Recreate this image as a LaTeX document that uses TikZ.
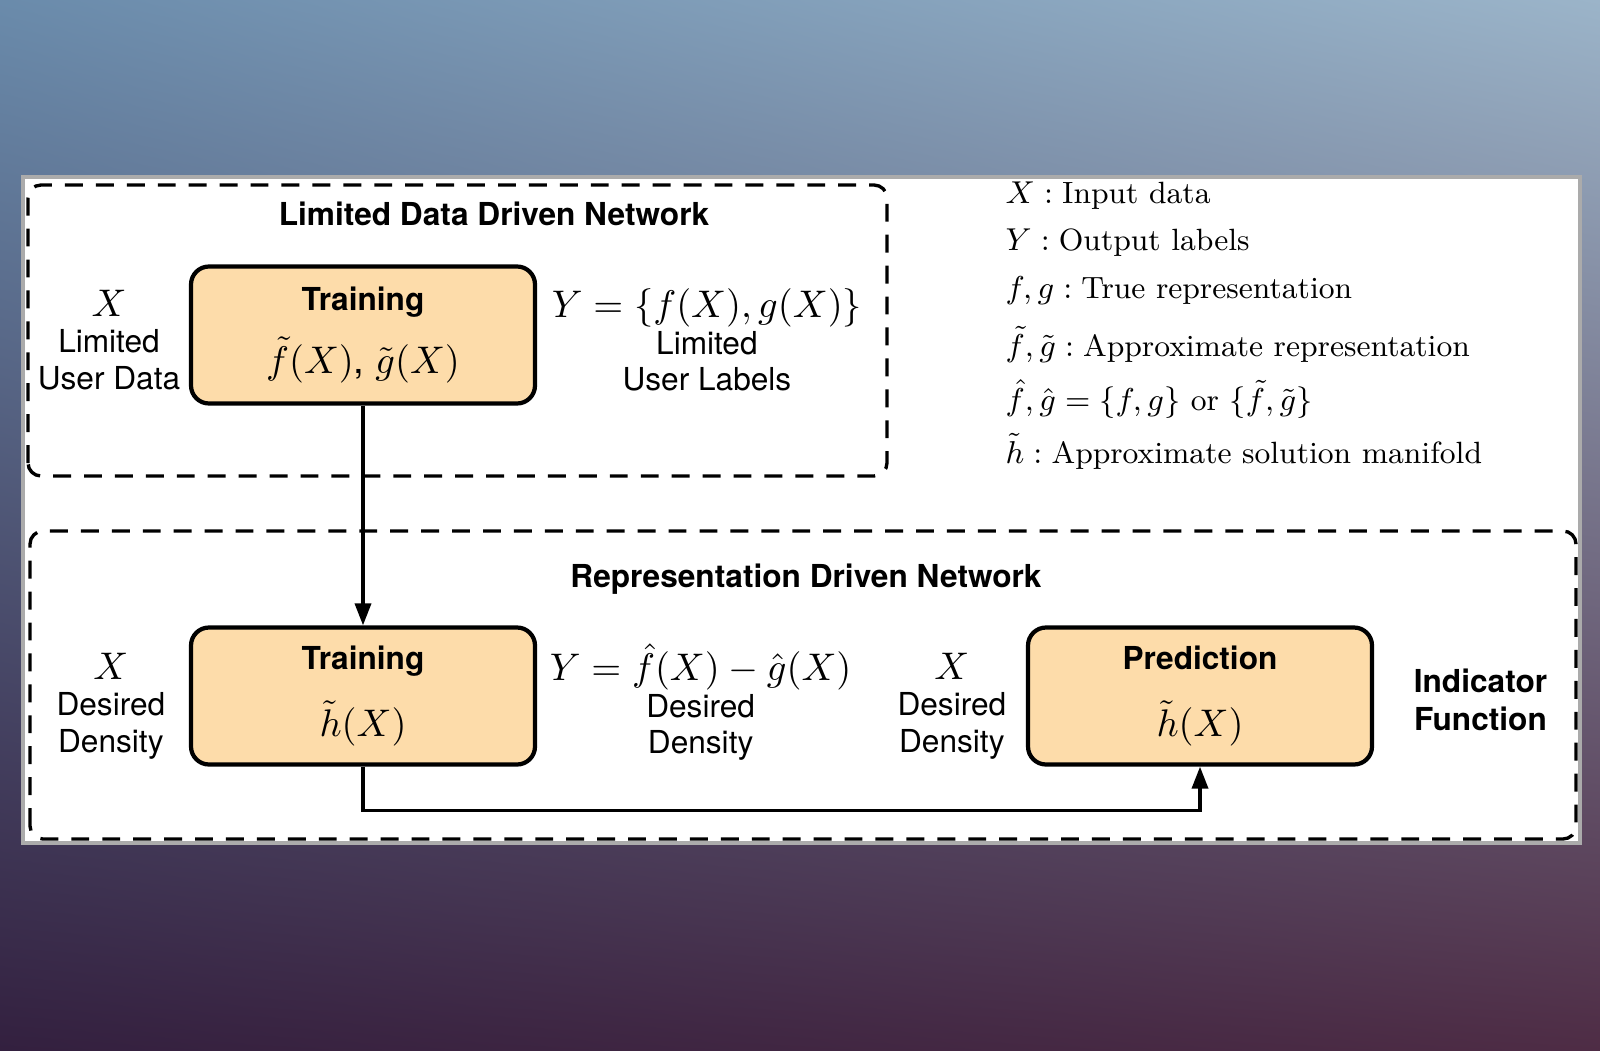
\documentclass[tikz,border=0pt]{standalone}
\usepackage{amsmath}
\usepackage{fontspec}
\setsansfont{TeX Gyre Heros}
\usetikzlibrary{arrows.meta,positioning}
\definecolor{stagefill}{HTML}{FDDCAA}
\definecolor{rim}{HTML}{ABABAB}
\newcommand{\eqfont}{\fontsize{11}{13}\selectfont}
% slide backdrop: blue-grey on top, dark purple below
\pgfdeclarefunctionalshading{backdrop}{\pgfpoint{0bp}{0bp}}{\pgfpoint{100bp}{100bp}}{}{%
  25 sub 50 div exch 25 sub 50 div exch 2 copy mul
  2 index 0.106 mul 2 index 0.216 mul add 1 index 0.086 mul add 0.200 add 4 1 roll
  2 index 0.048 mul 2 index 0.420 mul add 1 index 0.113 mul add 0.125 add 4 1 roll
  2 index 0.023 mul 2 index 0.424 mul add 1 index 0.094 mul add 0.247 add 4 1 roll
  pop pop pop}
\tikzset{
  stage/.style  ={rounded corners=1.8mm,draw=black,line width=1.2pt,fill=stagefill,
                  minimum width=3.44cm,minimum height=1.37cm,align=center,inner sep=0pt},
  zone/.style   ={rounded corners=1.3mm,draw=black,line width=0.95pt,
                  dash pattern=on 5.1pt off 3.7pt},
  note/.style   ={align=center,inner sep=0pt},
  heading/.style={font=\fontsize{9}{10.8}\selectfont\sffamily\bfseries,align=center,inner sep=0pt},
  legend/.style ={anchor=base west,inner sep=0pt,font=\fontsize{8.75}{11}\selectfont\rmfamily},
  flow/.style   ={-{Triangle[length=2.2mm,width=1.6mm]},line width=1pt,draw=black}
}
\begin{document}
\begin{tikzpicture}[x=1cm,y=1cm,font=\fontsize{9}{10.4}\selectfont\sffamily]
  \useasboundingbox (0,0) rectangle (16,10.5);
  \shade[shading=backdrop] (0,0) rectangle (16,10.5);
  \draw[rim,line width=1.2pt,fill=white] (0.23,2.07) rectangle (15.80,8.73);

  % the two networks
  \draw[zone] (0.28,5.74) rectangle (8.87,8.65);
  \draw[zone] (0.30,2.11) rectangle (15.76,5.19);
  \node[heading] (ttl1) at (4.94,8.36) {Limited Data Driven Network};
  \node[heading] (ttl2) at (8.06,4.71) {Representation Driven Network};

  \node[stage] (tr1) at (3.63,7.15) {\textbf{Training}\\[4.5pt]{\eqfont$\tilde f(X)$, $\tilde g(X)$}};
  \node[stage] (tr2) at (3.63,3.54) {\textbf{Training}\\[6pt]{\eqfont$\tilde h(X)$}};
  \node[stage] (pred) at (12.00,3.54) {\textbf{Prediction}\vphantom{g}\\[6pt]{\eqfont$\tilde h(X)$}};

  \node[note,left=0.8mm of tr1,yshift=-0.5mm] (xin1) {{\eqfont$X$}\\Limited\\User Data};
  \node[note,right=1.4mm of tr1,yshift=-0.5mm] (yout1) {{\eqfont$Y=\{f(X),g(X)\}$}\\Limited\\User Labels};
  \node[note,left=2.3mm of tr2,yshift=-1mm] (xin2) {{\eqfont$X$}\\Desired\\Density};
  \node[note,right=1.2mm of tr2,yshift=-0.6mm] (yout2) {{\eqfont$Y=\hat f(X)-\hat g(X)$}\\Desired\\Density};
  \node[note,left=1.9mm of pred,yshift=-1mm] (xin3) {{\eqfont$X$}\\Desired\\Density};
  \node[heading,right=3.9mm of pred,yshift=-0.4mm] (ind) {Indicator\\Function};

  \draw[flow] (tr1.south) -- (tr2.north);
  \draw[flow] (tr2.south) -- ++(0,-0.44) -| (pred.south);

  % notation
  \node[legend] (lg1) at (10.05,8.47) {$X:\text{Input data}$};
  \node[legend] (lg2) at (10.05,7.99) {$Y:\text{Output labels}$};
  \node[legend] (lg3) at (10.05,7.52) {$f,g:\text{True representation}$};
  \node[legend] (lg4) at (10.05,6.94) {$\tilde f,\tilde g:\text{Approximate representation}$};
  \node[legend] (lg5) at (10.05,6.40) {$\hat f,\hat g=\{f,g\}\text{ or }\{\tilde f,\tilde g\}$};
  \node[legend] (lg6) at (10.05,5.87) {$\tilde h:\text{Approximate solution manifold}$};
\end{tikzpicture}
\end{document}
